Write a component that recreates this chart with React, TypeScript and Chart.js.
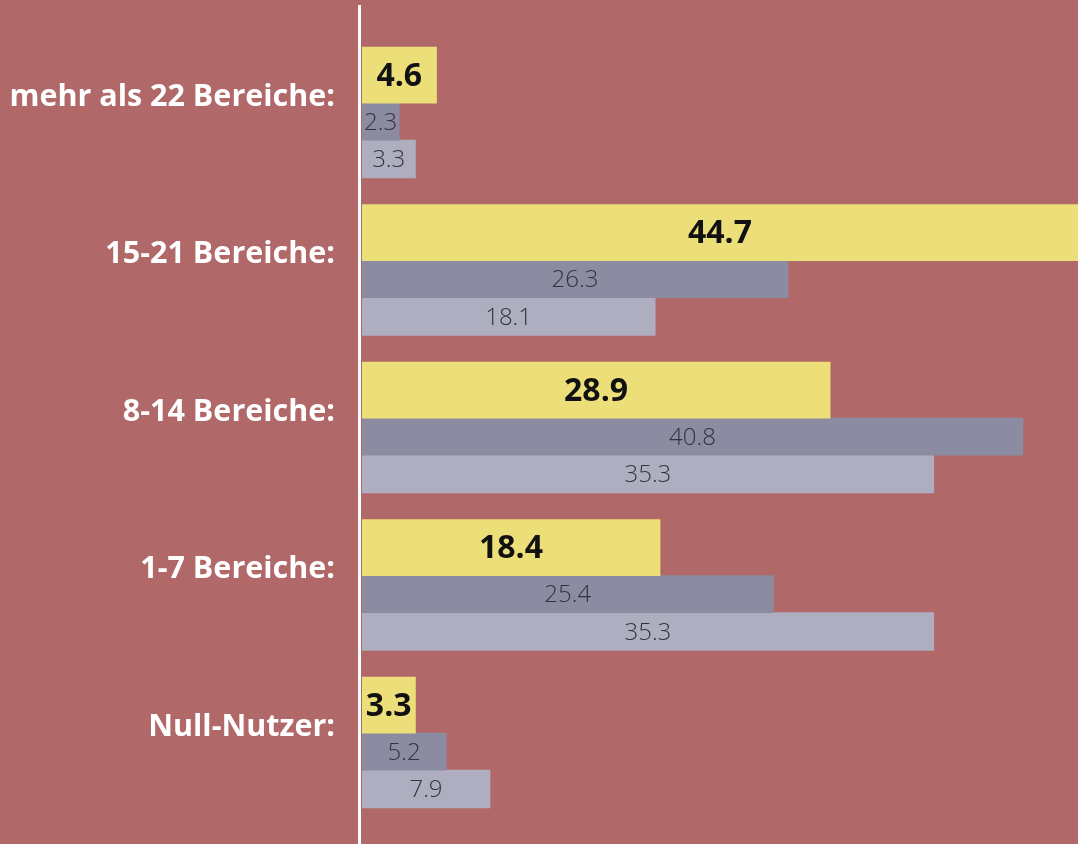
import React, { useEffect, useRef } from "react";
import { Chart, registerables } from "chart.js";

Chart.register(...registerables);

const CATEGORIES = [
  "mehr als 22 Bereiche:",
  "15-21 Bereiche:",
  "8-14 Bereiche:",
  "1-7 Bereiche:",
  "Null-Nutzer:",
];
const SERIES_YELLOW = [4.6, 44.7, 28.9, 18.4, 3.3];
const SERIES_DARK = [2.3, 26.3, 40.8, 25.4, 5.2];
const SERIES_LIGHT = [3.3, 18.1, 35.3, 35.3, 7.9];

const BG = "#B06868";
const FONT = "'Open Sans', 'Noto Sans', sans-serif";

// layout constants (category units on the linear index axis)
const OFFSET_YELLOW = -0.238;
const OFFSET_DARK = 0.057;
const OFFSET_LIGHT = 0.295;
const LABEL_OFFSET = -0.098;

const toPoints = (vals: number[], off: number) =>
  vals.map((v, i) => ({ x: v, y: i + off }));

const valueLabels = {
  id: "valueLabels",
  afterDatasetsDraw(chart: any) {
    const ctx = chart.ctx;
    const area = chart.chartArea;
    chart.data.datasets.forEach((ds: any, di: number) => {
      const meta = chart.getDatasetMeta(di);
      meta.data.forEach((el: any, i: number) => {
        const v = ds.data[i].x;
        const right = Math.min(el.x, area.right);
        const cx = (el.base + right) / 2;
        ctx.save();
        ctx.textAlign = "center";
        ctx.textBaseline = "middle";
        if (di === 0) {
          ctx.font = `bold 32px ${FONT}`;
          ctx.fillStyle = "#111111";
        } else {
          ctx.font = `300 24px ${FONT}`;
          ctx.fillStyle = "#33333f";
        }
        ctx.fillText(v.toFixed(1), cx, el.y + 1.5);
        ctx.restore();
      });
    });
  },
};

const axisLine = {
  id: "axisLine",
  beforeDatasetsDraw(chart: any) {
    const ctx = chart.ctx;
    const area = chart.chartArea;
    ctx.save();
    ctx.fillStyle = "#ffffff";
    ctx.fillRect(area.left - 4, area.top, 3, area.bottom - area.top);
    ctx.restore();
  },
};

export default function App() {
  const ref = useRef<HTMLCanvasElement | null>(null);

  useEffect(() => {
    if (!ref.current) return;
    const chart = new Chart(ref.current, {
      type: "bar",
      data: {
        datasets: [
          {
            data: toPoints(SERIES_YELLOW, OFFSET_YELLOW),
            backgroundColor: "#ECDE78",
            barThickness: 56,
            grouped: false,
          },
          {
            data: toPoints(SERIES_DARK, OFFSET_DARK),
            backgroundColor: "#8B8BA2",
            barThickness: 37,
            grouped: false,
          },
          {
            data: toPoints(SERIES_LIGHT, OFFSET_LIGHT),
            backgroundColor: "#AFAEC0",
            barThickness: 38,
            grouped: false,
          },
        ] as any,
      },
      plugins: [axisLine, valueLabels],
      options: {
        indexAxis: "y",
        animation: false,
        responsive: true,
        maintainAspectRatio: false,
        layout: { padding: { top: 5, left: 0, right: 0, bottom: 0 } },
        plugins: {
          legend: { display: false },
          tooltip: { enabled: false },
        },
        scales: {
          x: {
            type: "linear",
            display: false,
            min: 0,
            max: 44.2,
          },
          y: {
            type: "linear",
            reverse: true,
            offset: false,
            min: -0.683,
            max: 4.644,
            grid: { display: false, drawTicks: false, offset: false },
            border: { display: false },
            afterFit: (scale: any) => {
              scale.width = 362;
              scale.paddingTop = 0;
              scale.paddingBottom = 0;
            },
            afterBuildTicks: (scale: any) => {
              scale.ticks = CATEGORIES.map((_, i) => ({ value: i + LABEL_OFFSET }));
            },
            ticks: {
              autoSkip: false,
              padding: 27,
              color: "#ffffff",
              font: { family: FONT, size: 30.5, weight: "bold" },
              callback: (_v: any, idx: number) => CATEGORIES[idx],
            },
          },
        },
      } as any,
    });
    return () => chart.destroy();
  }, []);

  return (
    <div
      style={{
        position: "fixed",
        left: 0,
        top: 0,
        width: 1078,
        height: 844,
        background: BG,
      }}
    >
      <canvas ref={ref} />
    </div>
  );
}
